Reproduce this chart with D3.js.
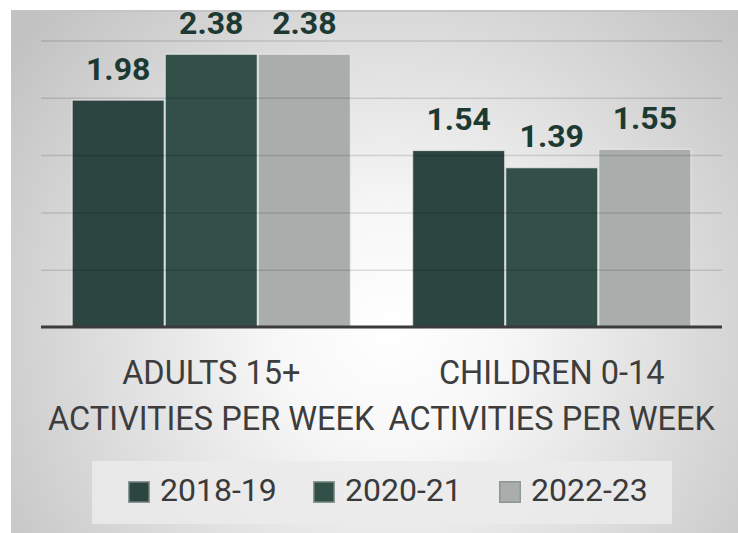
<!DOCTYPE html>
<html>
<head>
<meta charset="utf-8">
<script src="https://cdn.jsdelivr.net/npm/d3@7/dist/d3.min.js"></script>
<style>
  html, body { margin: 0; padding: 0; background: #ffffff; }
  svg { display: block; font-family: Roboto, "Noto Sans", sans-serif; }
</style>
</head>
<body>
<svg id="chart" width="738" height="533"></svg>
<script>
// Participation data: average activities per week
const categories = ["ADULTS 15+|ACTIVITIES PER WEEK", "CHILDREN 0-14|ACTIVITIES PER WEEK"];
const seasons = ["2018-19", "2020-21", "2022-23"];
const values2018 = [1.98, 1.54];
const values2020 = [2.38, 1.39];
const values2022 = [2.38, 1.55];
const gridTicks = [0.5, 1, 1.5, 2, 2.5];

const seriesValues = [values2018, values2020, values2022];
const colors = ["#2c4540", "#324f48", "#a9adac"];

const W = 738, H = 533;
const svg = d3.select("#chart");
const defs = svg.append("defs");

// soft radial backdrop
const bg = defs.append("radialGradient").attr("id", "bg")
  .attr("gradientUnits", "userSpaceOnUse")
  .attr("cx", 390).attr("cy", 330).attr("r", 470);
bg.append("stop").attr("offset", "0").attr("stop-color", "#ffffff");
bg.append("stop").attr("offset", "0.25").attr("stop-color", "#f7f7f7");
bg.append("stop").attr("offset", "1").attr("stop-color", "#c2c2c2");

svg.append("rect").attr("x", 11).attr("y", 10).attr("width", W - 11).attr("height", H - 10)
  .attr("fill", "url(#bg)");
svg.append("line").attr("x1", 11).attr("x2", W).attr("y1", 11).attr("y2", 11)
  .attr("stroke", "#c4c4c4").attr("stroke-width", 2);

// scales
const x0 = d3.scaleBand().domain(categories).range([41, 722])
  .paddingInner(0.18).paddingOuter(0.09);
const x1 = d3.scaleBand().domain(seasons).range([0, x0.bandwidth()]).padding(0);
const y = d3.scaleLinear().domain([0, 2.5]).range([327, 40.5]);

const rows = categories.map((c, i) => seasons.map((s, j) => ({ cat: c, season: s, value: seriesValues[j][i], color: colors[j] })));

// bars
const groups = svg.append("g").selectAll("g").data(rows).join("g")
  .attr("transform", d => `translate(${x0(d[0].cat)},0)`);
groups.selectAll("rect").data(d => d).join("rect")
  .attr("x", d => x1(d.season) + 0.5)
  .attr("y", d => y(d.value))
  .attr("width", x1.bandwidth() - 1)
  .attr("height", d => y(0) - y(d.value))
  .attr("fill", d => d.color)
  .attr("stroke", "rgba(235,235,235,0.75)")
  .attr("stroke-width", 1.2);

// gridlines over the bars
const yAxisGrid = d3.axisLeft(y).tickValues(gridTicks).tickSize(-(722 - 41)).tickFormat("");
svg.append("g").attr("transform", "translate(41,0)").call(yAxisGrid)
  .call(g => g.select(".domain").remove())
  .call(g => g.selectAll(".tick line").attr("stroke", "rgba(0,0,0,0.13)").attr("stroke-width", 1.5));

// baseline
svg.append("line").attr("x1", 41).attr("x2", 722).attr("y1", y(0)).attr("y2", y(0))
  .attr("stroke", "#3b3b3b").attr("stroke-width", 3);

// value labels
groups.selectAll("text.val").data(d => d).join("text").attr("class", "val")
  .attr("x", d => x1(d.season) + x1.bandwidth() / 2)
  .attr("y", d => y(d.value) - 20.5)
  .attr("text-anchor", "middle")
  .attr("font-size", 32).attr("font-weight", 700)
  .attr("fill", "#1d3a32")
  .text(d => d.value.toFixed(2));

// category labels
const catLabels = svg.append("g").selectAll("text").data(categories).join("text")
  .attr("x", d => x0(d) + x0.bandwidth() / 2)
  .attr("y", 384)
  .attr("text-anchor", "middle")
  .attr("font-size", 32.5).attr("font-weight", 400)
  .attr("fill", "#3d3d3d");
catLabels.selectAll("tspan").data(d => d.split("|")).join("tspan")
  .attr("x", function () { return d3.select(this.parentNode).attr("x"); })
  .attr("dy", (d, i) => i === 0 ? 0 : 46)
  .text(d => d);

// legend
svg.append("rect").attr("x", 92).attr("y", 461).attr("width", 580).attr("height", 63)
  .attr("fill", "#ebebeb").attr("fill-opacity", 0.85);
const legendX = [128, 313, 499];
const leg = svg.append("g").selectAll("g").data(seasons).join("g")
  .attr("transform", (d, i) => `translate(${legendX[i]},481)`);
leg.append("rect").attr("x", 0.75).attr("y", 0.75).attr("width", 20.5).attr("height", 20.5)
  .attr("fill", (d, i) => colors[i]).attr("stroke", "#8a9894").attr("stroke-width", 1.5);
leg.append("text").attr("x", 32).attr("y", 19.5)
  .attr("font-size", 32).attr("fill", "#3a3a3a")
  .text(d => d);
</script>
</body>
</html>
